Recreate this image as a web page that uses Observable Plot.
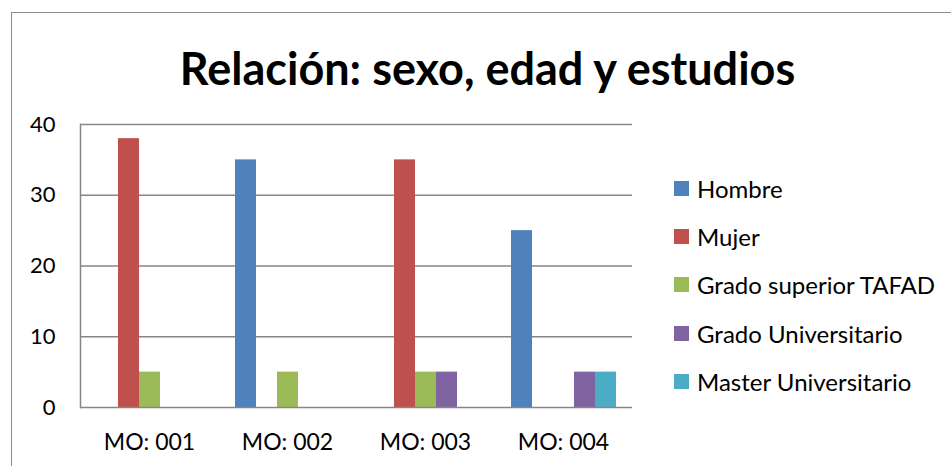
<!DOCTYPE html>
<html>
<head>
<meta charset="utf-8">
<script src="https://cdn.jsdelivr.net/npm/d3@7"></script>
<script src="https://cdn.jsdelivr.net/npm/@observablehq/plot@0.6"></script>
<style>
  body { margin: 0; background: #fff; }
  #chart { position: relative; width: 951px; height: 466px; overflow: hidden; font-family: Lato, "Liberation Sans", sans-serif; }
  #border { position: absolute; left: 11px; top: 12px; width: 1000px; height: 1000px; border: 1.5px solid #8a8a8a; }
  #title { position: absolute; left: 12px; width: 951px; top: 43px; text-align: center; font-weight: bold; font-size: 45px; line-height: 50px; color: #000; }
  #plot { position: absolute; left: 0; top: 110px; }
  #legend { position: absolute; left: 674px; top: 164px; }
  .row { display: flex; align-items: center; height: 48.3px; font-size: 24px; color: #000; }
  .sw { width: 15px; height: 15px; margin-right: 8px; }
</style>
</head>
<body>
<div id="chart">
  <div id="border"></div>
  <div id="title">Relación: sexo, edad y estudios</div>
  <div id="plot"></div>
  <div id="legend"></div>
</div>
<script>
const categories = ["MO: 001", "MO: 002", "MO: 003", "MO: 004"];
const seriesNames = ["Hombre", "Mujer", "Grado superior TAFAD", "Grado Universitario", "Master Universitario"];
const hombre = [0, 35, 0, 25];
const mujer = [38, 0, 35, 0];
const gradoSuperior = [5, 5, 5, 0];
const gradoUniversitario = [0, 0, 5, 5];
const masterUniversitario = [0, 0, 0, 5];
const yTicks = [0, 10, 20, 30, 40];
const colors = ["#4F81BD", "#C0504D", "#9BBB59", "#8064A2", "#4BACC6"];

const seriesValues = [hombre, mujer, gradoSuperior, gradoUniversitario, masterUniversitario];
const data = [];
seriesNames.forEach((s, i) => {
  categories.forEach((c, j) => {
    data.push({cat: c, series: s, value: seriesValues[i][j]});
  });
});

const plot = Plot.plot({
  width: 951,
  height: 356,
  marginLeft: 80,
  marginRight: 319,
  marginTop: 14,
  marginBottom: 59,
  style: {fontFamily: "Lato, 'Liberation Sans', sans-serif", color: "#000", background: "transparent"},
  fx: {domain: categories, padding: 0},
  x: {domain: seriesNames, paddingInner: 0, paddingOuter: 0.735, axis: null},
  y: {domain: [0, 40]},
  color: {domain: seriesNames, range: colors},
  marks: [
    Plot.ruleY(yTicks.filter(t => t > 0), {stroke: "#868686", strokeWidth: 1.5, strokeOpacity: 1}),
    Plot.barY(data.filter(d => d.value > 0), {fx: "cat", x: "series", y: "value", fill: "series"}),
    Plot.ruleY([0], {stroke: "#868686", strokeWidth: 1.5}),
    Plot.frame({anchor: "left", facetAnchor: "left", stroke: "#868686", strokeWidth: 1.5}),
    Plot.axisY({ticks: yTicks, tickSize: 0, tickPadding: 25, fontSize: 22, label: null}),
    Plot.axisFx({anchor: "bottom", tickSize: 0, tickPadding: 26, fontSize: 23, label: null})
  ]
});
document.getElementById("plot").appendChild(plot);

const color = plot.scale("color");
const legend = document.getElementById("legend");
seriesNames.forEach((s, i) => {
  const row = document.createElement("div");
  row.className = "row";
  const sw = document.createElement("div");
  sw.className = "sw";
  sw.style.background = colors[color.domain.indexOf(s)];
  const t = document.createElement("span");
  t.textContent = s;
  row.appendChild(sw);
  row.appendChild(t);
  legend.appendChild(row);
});
</script>
</body>
</html>
